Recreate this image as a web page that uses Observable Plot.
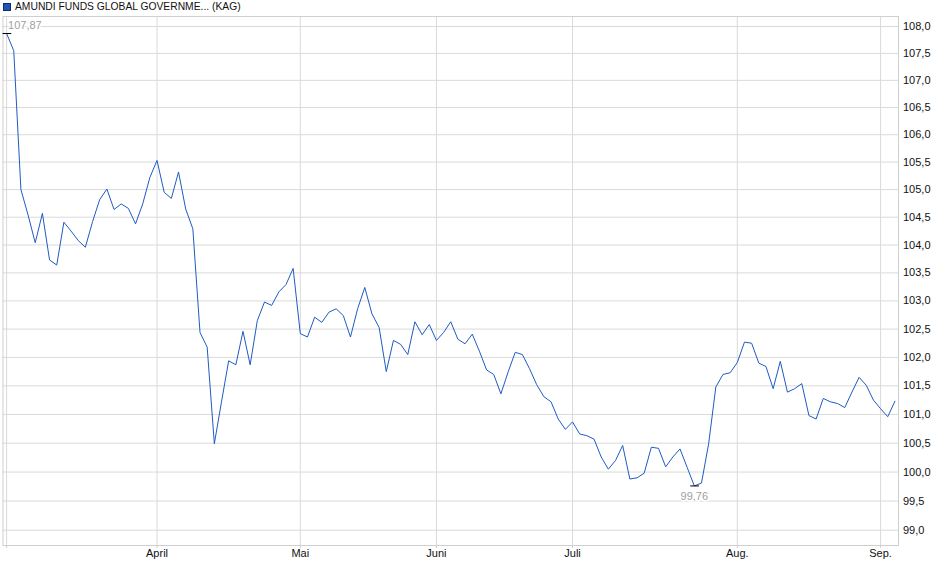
<!DOCTYPE html>
<html><head><meta charset="utf-8">
<script src="https://cdn.jsdelivr.net/npm/d3@7"></script>
<script src="https://cdn.jsdelivr.net/npm/@observablehq/plot@0.6"></script>
<style>
body{margin:0;background:#fff;font-family:"Liberation Sans",Arial,sans-serif;}
#legend{position:relative;height:14px;width:940px;}
#legend .sw{position:absolute;left:3px;top:3px;width:6px;height:6px;background:#1f55b5;border:1px solid #0d2d6e;}
#legend .lb{position:absolute;left:15px;top:-0.5px;font-size:10.3px;line-height:13px;color:#111;white-space:nowrap;}
#chart svg{display:block;}
</style></head><body>
<div id="legend"><span class="sw"></span><span class="lb">AMUNDI FUNDS GLOBAL GOVERNME... (KAG)</span></div>
<div id="chart"></div>
<script>
const values = [
  107.87, 107.55, 105.00, 104.54, 104.04, 104.57, 103.73, 103.64, 104.41, 104.25,
  104.08, 103.96, 104.42, 104.82, 105.01, 104.64, 104.74, 104.66, 104.38, 104.74,
  105.22, 105.53, 104.95, 104.84, 105.32, 104.65, 104.29, 102.44, 102.18, 100.49,
  101.22, 101.94, 101.87, 102.46, 101.87, 102.65, 102.98, 102.92, 103.16, 103.29,
  103.58, 102.42, 102.36, 102.71, 102.62, 102.80, 102.86, 102.74, 102.36, 102.86,
  103.24, 102.77, 102.53, 101.75, 102.30, 102.23, 102.05, 102.63, 102.40, 102.58,
  102.30, 102.44, 102.63, 102.32, 102.24, 102.41, 102.11, 101.78, 101.70, 101.36,
  101.74, 102.09, 102.05, 101.80, 101.52, 101.31, 101.22, 100.92, 100.74, 100.87,
  100.66, 100.63, 100.57, 100.26, 100.05, 100.20, 100.46, 99.88, 99.90, 99.98,
  100.43, 100.41, 100.09, 100.26, 100.40, 100.08, 99.76, 99.81, 100.49, 101.48,
  101.70, 101.73, 101.91, 102.27, 102.25, 101.90, 101.84, 101.45, 101.93, 101.39,
  101.45, 101.54, 100.98, 100.92, 101.28, 101.22, 101.19, 101.12, 101.39, 101.65,
  101.51, 101.25, 101.10, 100.96, 101.23
];
const monthTicks = [0, 21, 41, 60, 79, 102, 122];
const monthLabels = ["", "April", "Mai", "Juni", "Juli", "Aug.", "Sep."];
const yTicks = [99, 99.5, 100, 100.5, 101, 101.5, 102, 102.5, 103, 103.5, 104, 104.5, 105, 105.5, 106, 106.5, 107, 107.5, 108];

const data = values.map((v, i) => ({i, v}));
const fmt2 = v => d3.format(".2f")(v).replace(".", ",");
const fmt1 = v => d3.format(".1f")(v).replace(".", ",");
const iMax = d3.maxIndex(values), iMin = d3.minIndex(values);

const chart = Plot.plot({
  width: 940, height: 565,
  marginTop: 2, marginBottom: 34, marginLeft: 2.5, marginRight: 42,
  style: {fontFamily: "Liberation Sans, Arial, sans-serif", fontSize: "11px", color: "#111", background: "#fff"},
  x: {type: "linear", domain: [-0.5, 124.5], axis: null, label: null},
  y: {type: "log", domain: [98.739, 108.187], axis: null, label: null},
  marks: [
    Plot.gridY(yTicks, {stroke: "#dadada", strokeOpacity: 1}),
    Plot.gridX(monthTicks, {stroke: "#dadada", strokeOpacity: 1}),
    Plot.frame({stroke: "#cfcfcf"}),
    Plot.axisY(yTicks, {anchor: "right", label: null, tickSize: 0, tickPadding: 4.5, tickFormat: fmt1, fill: "#111"}),
    Plot.axisX(monthTicks, {anchor: "bottom", label: null, tickSize: 3, tickPadding: 1, stroke: "#cfcfcf", fill: "#111",
      tickFormat: d => monthLabels[monthTicks.indexOf(d)]}),
    Plot.line(data, {x: "i", y: "v", stroke: "#1f5bc1", strokeWidth: 1}),
    Plot.ruleY([iMax, iMin], {y: k => values[k], x1: k => k - 0.5, x2: k => k + 0.72, stroke: "#000", strokeWidth: 1}),
    Plot.text([iMax], {x: k => k, y: k => values[k], text: k => fmt2(values[k]), dy: -8, dx: 1.5, textAnchor: "start",
      fill: "#a0a0a0", stroke: "white", strokeWidth: 3, fontSize: 11}),
    Plot.text([iMin], {x: k => k, y: k => values[k], text: k => fmt2(values[k]), dy: 11, textAnchor: "middle",
      fill: "#a0a0a0", stroke: "white", strokeWidth: 3, fontSize: 11})
  ]
});
document.getElementById("chart").appendChild(chart);
</script>
</body></html>
